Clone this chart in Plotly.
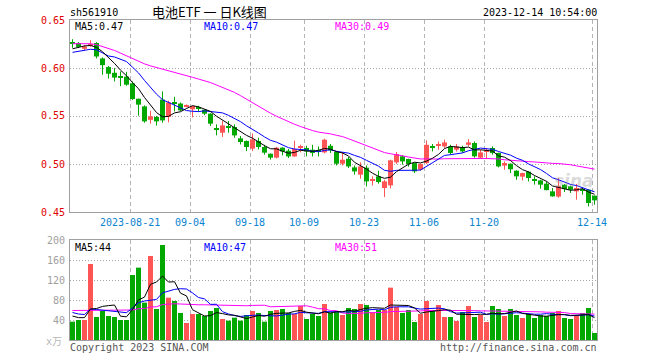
import plotly.graph_objects as go

# ---------------- data ----------------
opens = [0.627, 0.626, 0.620, 0.623, 0.626, 0.610, 0.601, 0.595, 0.5905, 0.591,
         0.584, 0.568, 0.560, 0.546, 0.549, 0.567, 0.549, 0.563, 0.563, 0.560,
         0.557, 0.5585, 0.5566, 0.5524, 0.5365, 0.5326, 0.539, 0.5385, 0.5267, 0.524,
         0.516, 0.524, 0.5177, 0.5107, 0.5066, 0.517, 0.5139, 0.5079, 0.517, 0.5167,
         0.5149, 0.5135, 0.5121, 0.519, 0.5125, 0.5003, 0.5055, 0.4965, 0.4889, 0.4962,
         0.4825, 0.4871, 0.4750, 0.4777, 0.5017, 0.508, 0.5052, 0.501, 0.4941, 0.501,
         0.518, 0.5197, 0.5183, 0.5183, 0.5149, 0.5167, 0.520, 0.5219, 0.5066, 0.5127,
         0.5167, 0.5115, 0.4983, 0.5003, 0.493, 0.4868, 0.4920, 0.4830, 0.4829, 0.4795,
         0.4715, 0.4660, 0.4784, 0.4767, 0.4715, 0.4728, 0.4732, 0.467]
highs = [0.630, 0.627, 0.624, 0.629, 0.627, 0.611, 0.602, 0.600, 0.5965, 0.596,
         0.586, 0.568, 0.561, 0.5555, 0.550, 0.5756, 0.566, 0.570, 0.564, 0.562,
         0.561, 0.5605, 0.557, 0.553, 0.5413, 0.5448, 0.5448, 0.5413, 0.5292, 0.5245,
         0.5316, 0.5274, 0.520, 0.511, 0.5177, 0.5175, 0.5156, 0.5243, 0.520, 0.519,
         0.520, 0.5183, 0.5264, 0.5208, 0.513, 0.5125, 0.5073, 0.4985, 0.5017, 0.4985,
         0.4871, 0.493, 0.4836, 0.5045, 0.5125, 0.509, 0.5055, 0.5015, 0.5005, 0.5246,
         0.5208, 0.5235, 0.5253, 0.520, 0.5208, 0.519, 0.526, 0.5235, 0.5149, 0.5167,
         0.5183, 0.5118, 0.5027, 0.5005, 0.4935, 0.491, 0.4925, 0.4871, 0.4835, 0.4819,
         0.475, 0.4854, 0.479, 0.4775, 0.4792, 0.475, 0.4735, 0.4672]
lows = [0.621, 0.621, 0.618, 0.622, 0.610, 0.593, 0.589, 0.586, 0.581, 0.5815,
        0.5667, 0.5503, 0.543, 0.542, 0.540, 0.543, 0.5433, 0.5548, 0.555, 0.559,
        0.5486, 0.5545, 0.551, 0.5396, 0.5298, 0.5281, 0.5326, 0.5274, 0.5204, 0.5135,
        0.5135, 0.5152, 0.5097, 0.5045, 0.5058, 0.509, 0.5062, 0.5075, 0.5121, 0.5079,
        0.5079, 0.5079, 0.511, 0.5115, 0.4985, 0.4985, 0.4958, 0.4889, 0.4847, 0.4767,
        0.4777, 0.4795, 0.4656, 0.4746, 0.500, 0.4993, 0.4972, 0.4906, 0.493, 0.500,
        0.5131, 0.5149, 0.5167, 0.5097, 0.5131, 0.5115, 0.5183, 0.5066, 0.5052, 0.5052,
        0.5097, 0.4965, 0.4941, 0.4906, 0.4836, 0.4829, 0.4819, 0.4785, 0.4743, 0.4725,
        0.466, 0.4649, 0.4708, 0.4698, 0.4628, 0.468, 0.4558, 0.4576]
closes = [0.626, 0.622, 0.6225, 0.625, 0.612, 0.603, 0.594, 0.590, 0.590, 0.5826,
          0.5677, 0.5618, 0.5444, 0.5496, 0.5444, 0.5454, 0.5642, 0.5625, 0.5558, 0.561,
          0.5604, 0.558, 0.5524, 0.542, 0.536, 0.5402, 0.5385, 0.5298, 0.5229, 0.5177,
          0.5256, 0.5177, 0.5118, 0.5066, 0.517, 0.5131, 0.5079, 0.5156, 0.518, 0.5131,
          0.5115, 0.5131, 0.5253, 0.5142, 0.5003, 0.5045, 0.4975, 0.4923, 0.4975, 0.4819,
          0.4829, 0.4812, 0.4819, 0.5038, 0.5104, 0.5027, 0.500, 0.4923, 0.500, 0.520,
          0.5177, 0.520, 0.5225, 0.5115, 0.5183, 0.5131, 0.5225, 0.508, 0.5121, 0.5135,
          0.5115, 0.4975, 0.501, 0.4945, 0.4871, 0.4906, 0.4854, 0.4826, 0.4785, 0.4728,
          0.4663, 0.4770, 0.474, 0.4732, 0.475, 0.4725, 0.4594, 0.4621]
volumes = [36.7, 40, 40, 152, 46, 58, 48, 46, 40, 40,
           130, 144.7, 74.7, 168, 62, 190, 84.7, 78, 54, 34,
           52, 52, 48, 58, 64, 42, 38.7, 44.7, 38.7, 50,
           58, 54, 36.7, 58, 60, 62, 54, 52, 68, 42,
           52, 48, 72, 55, 56.7, 50, 64, 62, 72, 70,
           55.3, 60, 60, 104.7, 66, 54, 60, 36, 52, 78,
           58, 70, 46, 46, 38, 56, 68, 46, 50, 36,
           68, 62, 48, 62, 50, 44, 52, 44, 50, 48,
           54, 58, 44, 42, 50, 54, 64, 14]

# moving-average values before a full window exists
ma5_head = [0.620, 0.6215, 0.623, 0.6235]
ma10_head = [0.6163, 0.6175, 0.619, 0.6195, 0.619, 0.6154, 0.6125, 0.6115, 0.609]
ma30_head = [0.6253, 0.6253, 0.6253, 0.6253, 0.6243, 0.6225, 0.6205, 0.6183, 0.6155, 0.6125,
             0.6095, 0.6068, 0.6043, 0.6022, 0.6005, 0.5993, 0.5978, 0.5958, 0.5937, 0.592,
             0.5903, 0.5885, 0.5868, 0.5848, 0.5823, 0.5798, 0.5773, 0.5746, 0.5712]
vma5_head = [48, 44.7, 44.7, 62]
vma10_head = [55, 52, 51, 62, 61, 60, 58, 57, 56]
vma30_head = [59, 59, 59, 59, 59, 59, 58.5, 58.5, 58.5, 58.5,
              60, 62.5, 63, 66, 66.5, 71, 72, 72.5, 72, 71,
              71, 70.5, 70.5, 70, 70, 69.5, 69, 69, 68.5]

tick_idx = [10, 20, 30, 39, 49, 59, 69, 87]
tick_text = ["2023-08-21", "09-04", "09-18", "10-09", "10-23", "11-06", "11-20", "12-14"]
price_ticks = [0.65, 0.60, 0.55, 0.50, 0.45]
vol_ticks = [200, 160, 120, 80, 40]

code = "sh561910"
title = "电池ETF 一 日K线图"
stamp = "2023-12-14 10:54:00"


def ma(values, n, head):
    out = list(head)
    for i in range(len(head), len(values)):
        out.append(sum(values[i - n + 1:i + 1]) / n)
    return out


n = len(closes)
idx = list(range(n))
RED = "#ff5555"
GREEN = "#00a800"
up = [c >= o for o, c in zip(opens, closes)]
colors = [RED if u else GREEN for u in up]

ma5 = ma(closes, 5, ma5_head)
ma10 = ma(closes, 10, ma10_head)
ma30 = ma(closes, 30, ma30_head)
vma5 = ma(volumes, 5, vma5_head)
vma10 = ma(volumes, 10, vma10_head)
vma30 = ma(volumes, 30, vma30_head)

fig = go.Figure()

# wicks
for col, flag in ((RED, True), (GREEN, False)):
    wx, wy = [], []
    for i in idx:
        if up[i] == flag:
            wx += [i, i, None]
            wy += [lows[i], highs[i], None]
    fig.add_trace(go.Scatter(x=wx, y=wy, mode="lines", line=dict(color=col, width=1),
                             hoverinfo="skip", showlegend=False, xaxis="x", yaxis="y"))

# bodies
bases = [min(o, c) for o, c in zip(opens, closes)]
heights = [max(abs(c - o), 0.0011) for o, c in zip(opens, closes)]
fig.add_trace(go.Bar(x=idx, y=heights, base=bases, width=0.83,
                     marker=dict(color=colors, line=dict(width=0)),
                     hoverinfo="skip", showlegend=False, xaxis="x", yaxis="y"))

for arr, col in ((ma30, "#ff00ff"), (ma10, "#0000ff"), (ma5, "#000000")):
    fig.add_trace(go.Scatter(x=idx, y=arr, mode="lines", line=dict(color=col, width=1),
                             hoverinfo="skip", showlegend=False, xaxis="x", yaxis="y"))

# volume
fig.add_trace(go.Bar(x=idx, y=volumes, width=0.83,
                     marker=dict(color=colors, line=dict(width=0)),
                     hoverinfo="skip", showlegend=False, xaxis="x2", yaxis="y2"))
for arr, col in ((vma30, "#ff00ff"), (vma10, "#0000ff"), (vma5, "#000000")):
    fig.add_trace(go.Scatter(x=idx, y=arr, mode="lines", line=dict(color=col, width=1),
                             hoverinfo="skip", showlegend=False, xaxis="x2", yaxis="y2"))

# ---------------- layout ----------------
W, H = 660, 360
L, T, R, B = 70, 20, 63, 20
PW, PH = W - L - R, H - T - B   # 527 x 320
x0 = -2.5 / 6
x1 = x0 + PW / 6.0
grid_x = [t - 0.367 for t in tick_idx]
FRAME = "#a0a0a0"
GRID = "#b4b4b4"

common_x = dict(range=[x0, x1], showgrid=True, gridcolor=GRID, griddash="4px,3px", gridwidth=1,
                tickvals=grid_x, showticklabels=False, ticks="", zeroline=False,
                showline=True, linecolor=FRAME, linewidth=1, mirror=True, fixedrange=True)
fig.update_layout(
    width=W, height=H, autosize=False,
    margin=dict(l=L, r=R, t=T, b=B, pad=0),
    paper_bgcolor="white", plot_bgcolor="white",
    showlegend=False, hovermode=False,
    xaxis=dict(domain=[0, 1], anchor="y", **common_x),
    xaxis2=dict(domain=[0, 1], anchor="y2", **common_x),
    yaxis=dict(domain=[128 / 320.0, 1], range=[0.45, 0.65], tickvals=[0.50, 0.55, 0.60],
               showgrid=True, gridcolor="#a8a8a8", griddash="1px,2px", showticklabels=False,
               ticks="", zeroline=False, showline=True, linecolor=FRAME, mirror=True, fixedrange=True),
    yaxis2=dict(domain=[0, 100 / 320.0], range=[0, 200], tickvals=[40, 80, 120, 160],
                showgrid=True, gridcolor="#a8a8a8", griddash="1px,2px", showticklabels=False,
                ticks="", zeroline=False, showline=True, linecolor=FRAME, mirror=True, fixedrange=True),
)


def pxx(x):  # page pixel -> paper
    return (x - L) / PW


def pyy(y):
    return (H - B - y) / PH


MONO = "DejaVu Sans Mono, Liberation Mono, monospace"
ann = []


def text(s, x, y, anchor="left", color="#000", size=10, family=MONO, **kw):
    ann.append(dict(text=s, x=pxx(x), y=pyy(y), xref="paper", yref="paper", showarrow=False,
                    xanchor=anchor, yanchor="middle", font=dict(family=family, size=size, color=color),
                    borderpad=0, **kw))


text(code, 69, 13)
text(title, 209, 11.5, anchor="center", size=13, family="Noto Sans CJK SC, sans-serif")
text(stamp, 598, 12, anchor="right")
text("MA5:%.2f" % ma5[-1], 74, 26)
text("MA10:%.2f" % ma10[-1], 203, 26, color="#0000ff")
text("MA30:%.2f" % ma30[-1], 334, 26, color="#ff00ff")

for p in price_ticks:
    text("%.2f" % p, 66, 20 + (0.65 - p) / 0.2 * 192, anchor="right", color="#e00000")
for g, t in zip(grid_x, tick_text):
    text(t, 70 + (g - x0) * 6, 222, anchor="center", color="#0a84d0")

text("MA5:%d" % int(vma5[-1]), 74, 247)
text("MA10:%d" % int(vma10[-1]), 203, 247, color="#0000ff")
text("MA30:%d" % int(vma30[-1]), 334, 247, color="#ff00ff")
for v in vol_ticks:
    text("%d" % v, 66, 340 - v / 2.0, anchor="right", color="#a0a0a0")
text("x万", 63, 341, anchor="right", color="#b8b8b8", family=MONO + ", Noto Sans CJK SC")

text("Copyright 2023 SINA.COM", 69, 347, color="#555555")
text("http://finance.sina.com.cn", 598, 347, anchor="right", color="#555555")

ann.append(dict(text="sina", x=pxx(574), y=pyy(181), xref="paper", yref="paper", showarrow=False,
                xanchor="center", yanchor="middle",
                font=dict(family="DejaVu Sans", size=17, color="rgba(150,150,150,0.35)",
                          weight="bold", style="italic")))

fig.update_layout(annotations=ann)
# remove the default 8px page margin so the figure fills the window exactly
fig.write_html("out.html", config={"displayModeBar": False},
               post_script="document.body.style.margin='0';document.body.style.padding='0';")
